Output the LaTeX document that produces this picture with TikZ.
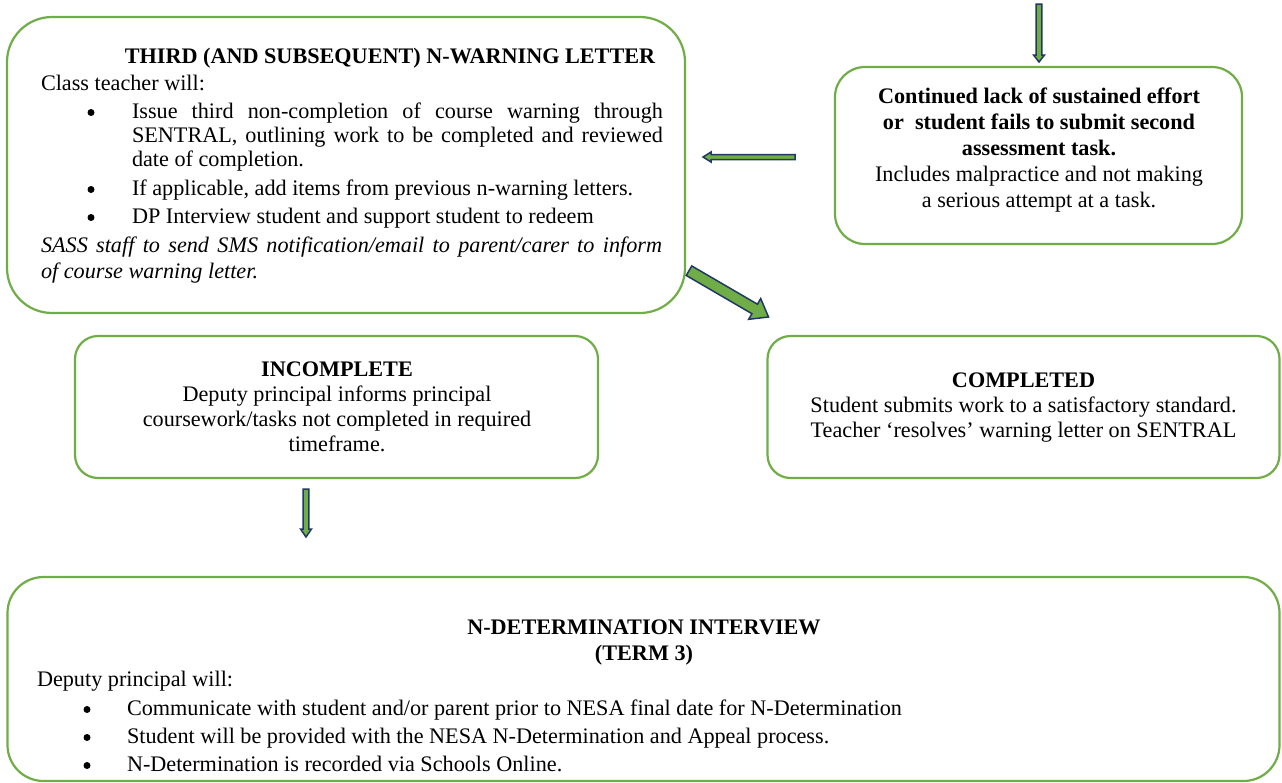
\documentclass[tikz,border=0pt]{standalone}
\usepackage{fontspec}
\setmainfont{Liberation Serif}
\usetikzlibrary{calc}
\definecolor{boxgreen}{HTML}{70AD47}
\definecolor{navyline}{HTML}{1F3864}
% block arrow: #1 start, #2 tip, #3 shaft half width, #4 head half width, #5 head length
\newcommand\blockarrow[5]{%
  \path ($(#2)!#5!(#1)$) coordinate (ba-neck);
  \draw[arrowbody] ($(#1)!#3!90:(#2)$) -- ($(ba-neck)!#3!90:(#2)$) -- ($(ba-neck)!#4!90:(#2)$)
    -- (#2) -- ($(ba-neck)!#4!-90:(#2)$) -- ($(ba-neck)!#3!-90:(#2)$) -- ($(#1)!#3!-90:(#2)$) -- cycle;}
\begin{document}
\begin{tikzpicture}[x=1pt,y=-1pt,
  box/.style={draw=boxgreen, line width=2.2pt, inner sep=0pt, outer sep=0pt, fill=white},
  txt/.style={inner sep=0pt, outer sep=0pt, font=\fontsize{22.2}{25}\selectfont},
  lt/.style={txt, anchor=base west},
  ct/.style={txt, anchor=base},
  bt/.style={txt, anchor=base, font=\fontsize{22.2}{25}\selectfont\bfseries},
  it/.style={txt, anchor=base west, font=\fontsize{22.2}{25}\selectfont\itshape},
  dot/.style={circle, fill=black, inner sep=0pt, outer sep=0pt, minimum size=7pt},
  arrowbody/.style={draw=navyline, fill=boxgreen, line width=1.5pt, line join=miter}]
\useasboundingbox (0,0) rectangle (1282,782);

% boxes
\node[box, minimum width=678pt, minimum height=296pt, rounded corners=45pt] (b1) at (346,165) {};
\node[box, minimum width=407pt, minimum height=177pt, rounded corners=30pt] (b2) at (1038.5,155.5) {};
\node[box, minimum width=523pt, minimum height=142pt, rounded corners=23pt] (b3) at (336.5,407) {};
\node[box, minimum width=512pt, minimum height=142pt, rounded corners=23pt] (b4) at (1023.5,407) {};
\node[box, minimum width=1272pt, minimum height=204pt, rounded corners=36pt] (b5) at (643.5,679) {};

% box 1 text
\node[bt] (t1) at (390,63) {THIRD (AND SUBSEQUENT) N-WARNING LETTER};
\node[lt] (t2) at (41,90) {Class teacher will:};
\node[dot] (t3b) at (91,112.5) {};
\node[lt] (t3) at (132,118) {\makebox[531pt][s]{Issue third non-completion of course warning through}};
\node[lt] (t4) at (132,142) {\makebox[531pt][s]{SENTRAL, outlining work to be completed and reviewed}};
\node[lt] (t5) at (132,166) {date of completion.};
\node[dot] (t6b) at (91,189.5) {};
\node[lt] (t6) at (132,195) {If applicable, add items from previous n-warning letters.};
\node[dot] (t7b) at (91,217.5) {};
\node[lt] (t7) at (132,223) {DP Interview student and support student to redeem};
\node[it] (t8) at (41,252) {\makebox[621pt][s]{SASS staff to send SMS notification/email to parent/carer to inform}};
\node[it] (t9) at (41,278) {of course warning letter.};

% box 2 text
\node[bt] (u1) at (1039,103) {Continued lack of sustained effort};
\node[bt] (u2) at (1039,129) {or\ \ student fails to submit second};
\node[bt] (u3) at (1039,155) {assessment task.};
\node[ct] (u4) at (1039,181) {Includes malpractice and not making};
\node[ct] (u5) at (1039,207) {a serious attempt at a task.};

% box 3 text
\node[bt] (v1) at (337,376) {INCOMPLETE};
\node[ct] (v2) at (337,401) {Deputy principal informs principal};
\node[ct] (v3) at (337,426) {coursework/tasks not completed in required};
\node[ct] (v4) at (337,451) {timeframe.};

% box 4 text
\node[bt] (w1) at (1023.5,387) {COMPLETED};
\node[ct] (w2) at (1023.5,412) {Student submits work to a satisfactory standard.};
\node[ct] (w3) at (1023.5,437) {Teacher ‘resolves’ warning letter on SENTRAL};

% box 5 text
\node[bt] (x1) at (644,634) {N-DETERMINATION INTERVIEW};
\node[bt] (x2) at (644,660) {(TERM 3)};
\node[lt] (x3) at (37,686) {Deputy principal will:};
\node[dot] (x4b) at (87,709.5) {};
\node[lt] (x4) at (127,715) {Communicate with student and/or parent prior to NESA final date for N-Determination};
\node[dot] (x5b) at (87,737.5) {};
\node[lt] (x5) at (127,743) {Student will be provided with the NESA N-Determination and Appeal process.};
\node[dot] (x6b) at (87,765.5) {};
\node[lt] (x6) at (127,771) {N-Determination is recorded via Schools Online.};

% arrow ends
\coordinate (a1s) at (1039,4);
\coordinate (a1e) at ($(b2.north)+(0.5,-5)$);
\coordinate (a2s) at ($(b2.west)+(-40,1.5)$);
\coordinate (a2e) at ($(b1.east)+(18,-8)$);
\coordinate (a3s) at ($(b1.south east)+(4,-42.3)$);
\coordinate (a3e) at ($(b4.north west)+(1,-19)$);
\coordinate (a4s) at ($(b3.south)+(-30.5,11)$);
\coordinate (a4e) at ($(b3.south)+(-30.5,59)$);

% arrows
\blockarrow{a1s}{a1e}{2.8pt}{5.5pt}{7pt}
\blockarrow{a2s}{a2e}{2.5pt}{5pt}{8pt}
\blockarrow{a3s}{a3e}{5.5pt}{12pt}{16pt}
\blockarrow{a4s}{a4e}{2.8pt}{5.5pt}{8pt}
\end{tikzpicture}
\end{document}
